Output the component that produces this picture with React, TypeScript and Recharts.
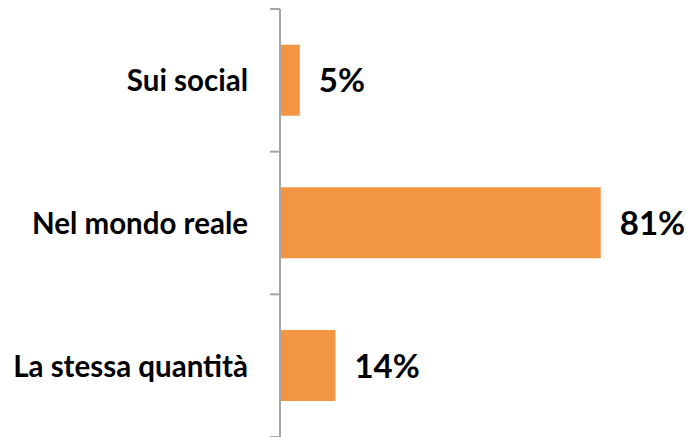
import React from 'react';
import { BarChart, Bar, XAxis, YAxis, LabelList } from 'recharts';

// Categories and values (percent)
const categories = ['Sui social', 'Nel mondo reale', 'La stessa quantità'];
const values = [5, 81, 14];

const data = categories.map((name, i) => ({ name, value: values[i] }));

const W = 687;
const H = 437;
const TOP = 9;
const BOTTOM = 0;
const BAND = (H - TOP - BOTTOM) / categories.length;
const FONT = 'Lato, "Open Sans", sans-serif';

const CategoryTick = (props: any) => {
  const { x, y, payload, index } = props;
  const axisX = x + 8;
  return (
    <g>
      <line x1={axisX - 10} x2={axisX} y1={y - BAND / 2} y2={y - BAND / 2} stroke="#A6A6A6" strokeWidth={2} />
      {index === categories.length - 1 && (
        <line x1={axisX - 10} x2={axisX} y1={y + BAND / 2} y2={y + BAND / 2} stroke="#A6A6A6" strokeWidth={2} />
      )}
      <text x={axisX - 32} y={y} dy={11} textAnchor="end" fontFamily={FONT} fontWeight={700} fontSize={29.5} fill="#000">
        {payload.value}
      </text>
    </g>
  );
};

const ValueLabel = (props: any) => {
  const { x, y, width, height, value } = props;
  return (
    <text x={x + width + 19} y={y + height / 2} dy={12} textAnchor="start" fontFamily={FONT} fontWeight={700} fontSize={33} fill="#000">
      {`${value}%`}
    </text>
  );
};

export default function App() {
  return (
    <div style={{ position: 'absolute', left: 0, top: 0, background: '#fff' }}>
      <BarChart
        width={W}
        height={H}
        data={data}
        layout="vertical"
        margin={{ top: TOP, right: 11, bottom: BOTTOM, left: 0 }}
        barCategoryGap="25%"
      >
        <XAxis type="number" domain={[0, 100]} hide />
        <YAxis
          type="category"
          dataKey="name"
          width={280}
          tickLine={false}
          axisLine={{ stroke: '#A6A6A6', strokeWidth: 2 }}
          tick={<CategoryTick />}
          interval={0}
        />
        <Bar dataKey="value" fill="#F39644" isAnimationActive={false}>
          <LabelList dataKey="value" content={<ValueLabel />} />
        </Bar>
      </BarChart>
    </div>
  );
}
